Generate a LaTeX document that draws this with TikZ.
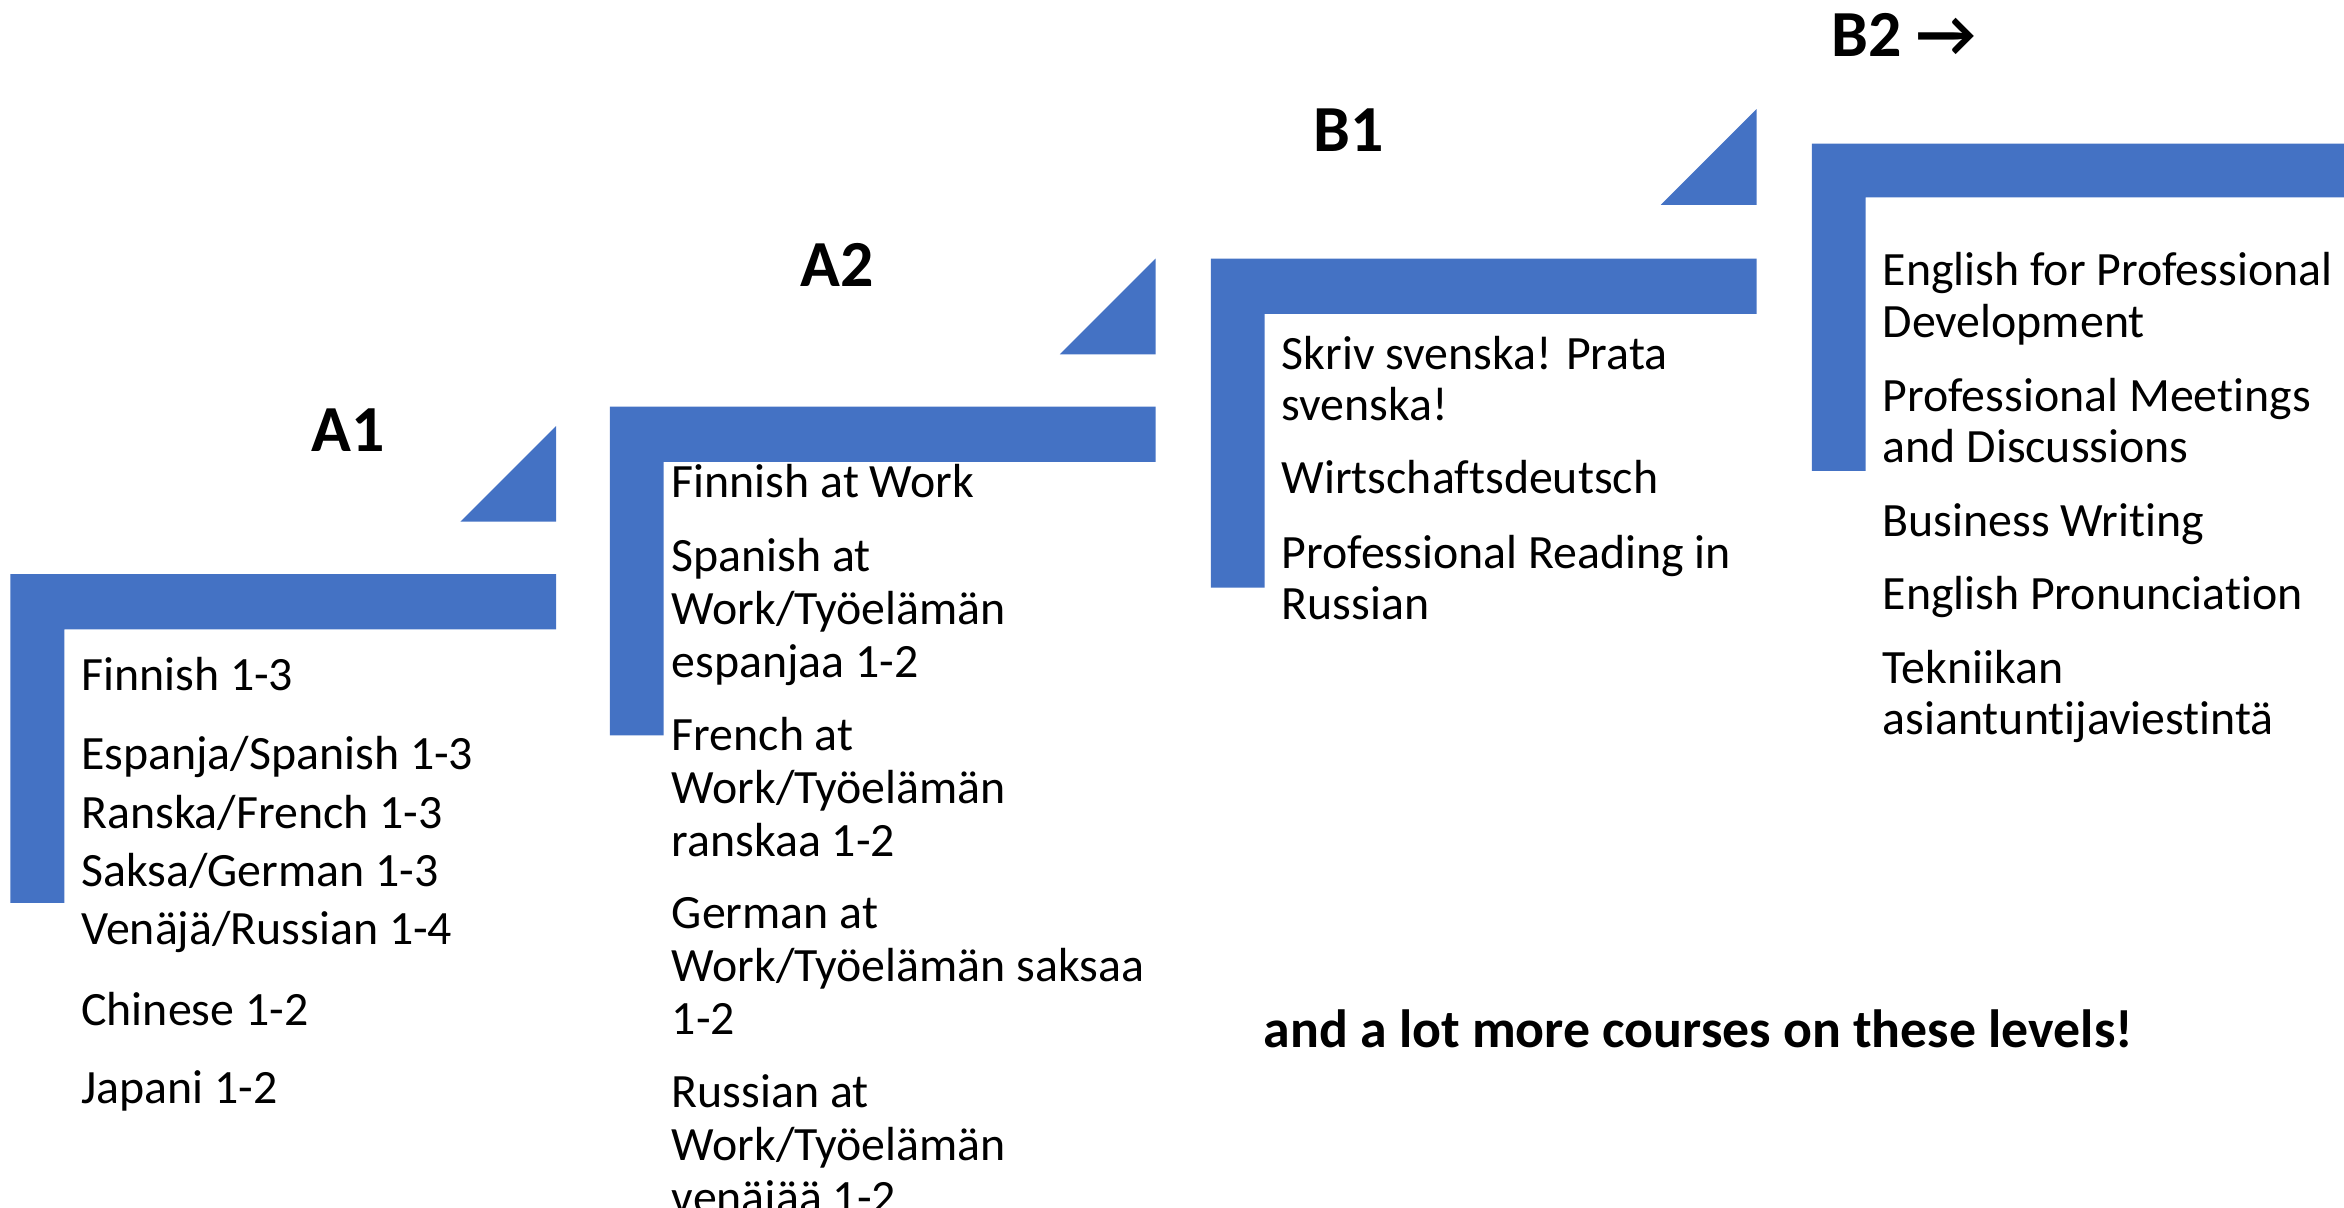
\documentclass[tikz,border=0pt]{standalone}
\usepackage{fontspec}
\setmainfont{Carlito}[Ligatures=NoCommon]
\definecolor{stepblue}{HTML}{4472C4}
\tikzset{
  stepbar/.style={fill=stepblue, draw=none},
  level/.style={font=\fontsize{22}{26}\selectfont\bfseries, inner sep=0pt},
  course/.style={anchor=base west, align=left, inner sep=0pt, font=\fontsize{16}{17.25}\selectfont},
}
\begin{document}
\begin{tikzpicture}[x=0.5pt, y=-0.5pt]
  \useasboundingbox (0,0) rectangle (1568,808);
  % A1 step (base of a node is on its last line)
  \fill[stepbar] (7,384) -- (372,384) -- (372,421) -- (43,421) -- (43,604) -- (7,604) -- cycle; % bracket
  \fill[stepbar] (372,285) -- (372,349) -- (308,349) -- cycle; % corner
  \node[level] (a1) at (233,288) {A1};
  \node[course, font=\fontsize{16}{19.5}\selectfont] (a1fin) at (54,462) {Finnish 1-3};
  \node[course, font=\fontsize{16}{19.5}\selectfont] (a1lang) at (54,632) {Espanja/Spanish 1-3\\Ranska/French 1-3\\Saksa/German 1-3\\Venäjä/Russian 1-4};
  \node[course, font=\fontsize{16}{19.5}\selectfont] (a1chi) at (54,686) {Chinese 1-2};
  \node[course, font=\fontsize{16}{19.5}\selectfont] (a1jap) at (54,738) {Japani 1-2};
  % A2 step
  \fill[stepbar] (408,272) -- (773,272) -- (773,309) -- (444,309) -- (444,492) -- (408,492) -- cycle; % bracket
  \fill[stepbar] (773,173) -- (773,237) -- (709,237) -- cycle; % corner
  \node[level] (a2) at (560,177) {A2};
  \node[course, font=\fontsize{16}{17.75}\selectfont] (a2fin) at (449,333) {Finnish at Work};
  \node[course, font=\fontsize{16}{17.75}\selectfont] (a2spa) at (449,453) {Spanish at\\Work/Työelämän\\espanjaa 1-2};
  \node[course, font=\fontsize{16}{17.75}\selectfont] (a2fre) at (449,573) {French at\\Work/Työelämän\\ranskaa 1-2};
  \node[course, font=\fontsize{16}{17.75}\selectfont] (a2ger) at (449,692) {German at\\Work/Työelämän saksaa\\1-2};
  \node[course, font=\fontsize{16}{17.75}\selectfont] (a2rus) at (449,812) {Russian at\\Work/Työelämän\\venäjää 1-2};
  % B1 step
  \fill[stepbar] (810,173) -- (1175,173) -- (1175,210) -- (846,210) -- (846,393) -- (810,393) -- cycle; % bracket
  \fill[stepbar] (1175,73) -- (1175,137) -- (1111,137) -- cycle; % corner
  \node[level] (b1) at (902,87) {B1};
  \node[course] (b1swe) at (857,281.5) {Skriv svenska! Prata\\svenska!};
  \node[course] (b1ger) at (857,330) {Wirtschaftsdeutsch};
  \node[course] (b1rus) at (857,414.5) {Professional Reading in\\Russian};
  % B2 step
  \fill[stepbar] (1212,96) -- (1580,96) -- (1580,132) -- (1248,132) -- (1248,315) -- (1212,315) -- cycle; % bracket
  \node[level, anchor=base west] (b2) at (1225,38) {B2 →};
  \node[course] (b2dev) at (1259,225.5) {English for Professional\\Development};
  \node[course] (b2meet) at (1259,309.5) {Professional Meetings\\and Discussions};
  \node[course] (b2writ) at (1259,359) {Business Writing};
  \node[course] (b2pron) at (1259,408) {English Pronunciation};
  \node[course] (b2tek) at (1259,491.5) {Tekniikan\\asiantuntijaviestintä};
  % closing note
  \node[anchor=base west, inner sep=0pt, font=\fontsize{18}{22}\selectfont\bfseries] (more) at (845,701) {and a lot more courses on these levels!};
\end{tikzpicture}
\end{document}
